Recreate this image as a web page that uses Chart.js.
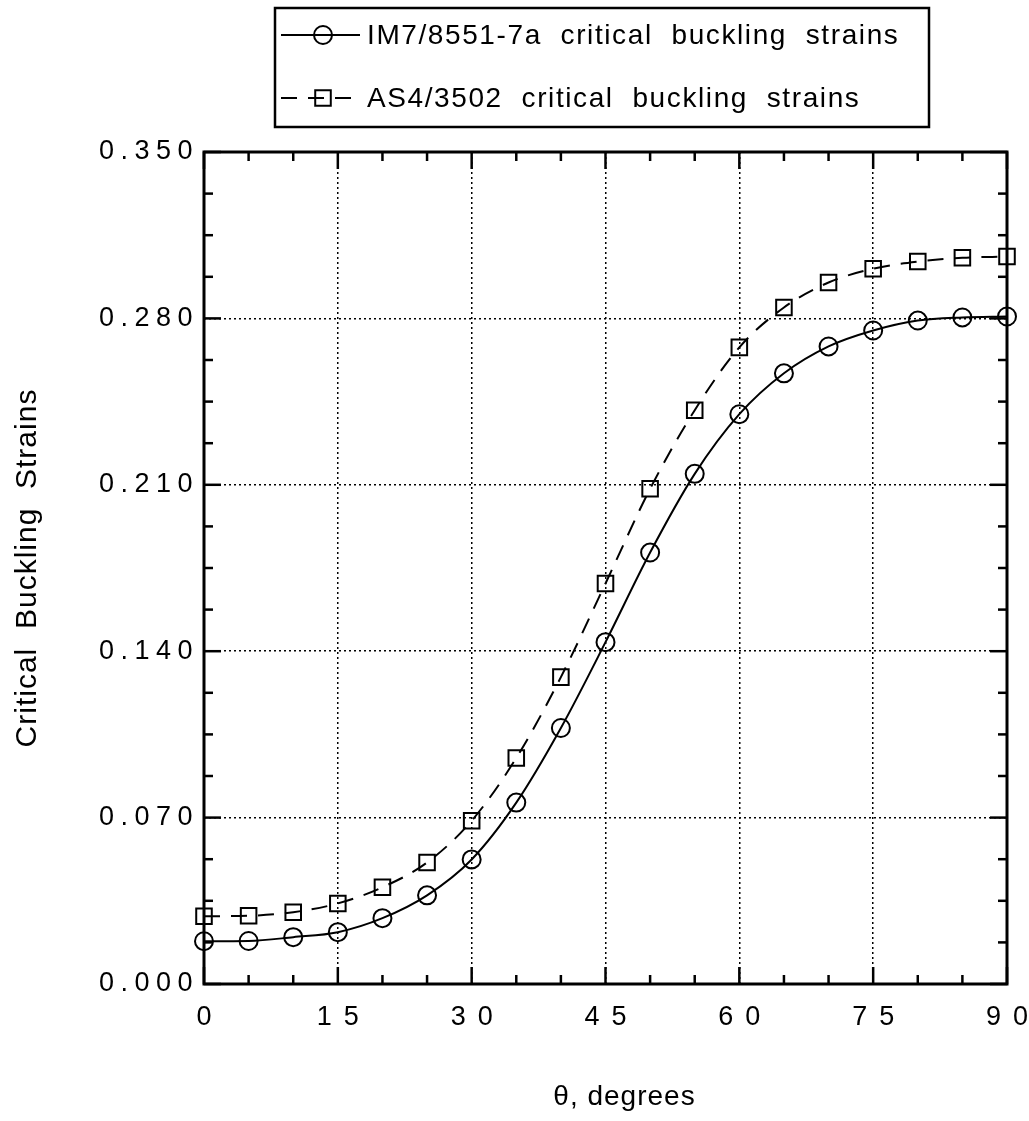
<!DOCTYPE html>
<html lang="en">
<head>
    <meta charset="UTF-8">
    <title>Critical Buckling Strains</title>
    <script src="https://cdn.jsdelivr.net/npm/chart.js"></script>
    <style>
        html, body { margin: 0; padding: 0; background: #fff; overflow: hidden; }
        .chart-wrap { position: relative; width: 1029px; height: 1121px; }
        .chart-wrap canvas { display: block; }
    </style>
</head>
<body>
    <div class="chart-wrap">
        <canvas id="bucklingChart"></canvas>
    </div>
    <script>
    // ply angle, degrees
    const angles = [0, 5, 10, 15, 20, 25, 30, 35, 40, 45, 50, 55, 60, 65, 70, 75, 80, 85, 90];
    const im7Strains = [0.0180, 0.0181, 0.0197, 0.0218, 0.0277, 0.0373, 0.0524, 0.0763, 0.1077, 0.1438,
                        0.1815, 0.2146, 0.2397, 0.2569, 0.2682, 0.2749, 0.2791, 0.2804, 0.2808];
    const as4Strains = [0.0285, 0.0287, 0.0302, 0.0339, 0.0407, 0.0511, 0.0687, 0.0951, 0.1291, 0.1685,
                        0.2083, 0.2414, 0.2678, 0.2846, 0.2951, 0.3009, 0.3039, 0.3055, 0.3060];
    const seriesNames = ['IM7/8551-7a  critical  buckling  strains', 'AS4/3502  critical  buckling  strains'];
    const xTitle = 'θ, degrees';
    const yTitle = 'Critical  Buckling  Strains';

    const FONT = "'Liberation Sans', Arial, Helvetica, sans-serif";
    const xLabelSpacing = 12;
    const yLabelSpacing = 6.5;

    // wide letter spacing on tick labels, like the old plotting package
    const spacedText = {
        id: 'spacedText',
        beforeDraw(chart) {
            ['x', 'y'].forEach(id => {
                const s = chart.scales[id];
                if (s._spaced) return;
                const sp = id === 'x' ? xLabelSpacing : yLabelSpacing;
                const origLabels = s.drawLabels.bind(s);
                s.drawLabels = function(area) {
                    const ctx = this.ctx;
                    ctx.save();
                    ctx.letterSpacing = sp + 'px';
                    if (id === 'x') ctx.translate(sp / 2, 0);
                    origLabels(area);
                    ctx.restore();
                };
                const origTitle = s.drawTitle.bind(s);
                s.drawTitle = function() {
                    const ctx = this.ctx;
                    ctx.save();
                    ctx.letterSpacing = '1px';
                    if (id === 'x') ctx.translate(19, 0);
                    origTitle();
                    ctx.restore();
                };
                s._spaced = true;
            });
        }
    };

    // frame with inward tick marks on all four sides
    const frameTicks = {
        id: 'frameTicks',
        beforeDatasetsDraw(chart) {
            const {ctx, chartArea: a, scales: {x, y}} = chart;
            const line = (x1, y1, x2, y2) => { ctx.beginPath(); ctx.moveTo(x1, y1); ctx.lineTo(x2, y2); ctx.stroke(); };
            ctx.save();
            ctx.strokeStyle = '#000';
            ctx.lineWidth = 2.5;
            for (let v = 0; v <= 90; v += 5) {
                const px = x.getPixelForValue(v);
                const len = v % 15 === 0 ? 17 : 9;
                line(px, a.bottom, px, a.bottom - len);
                line(px, a.top, px, a.top + len);
            }
            for (let i = 0; i <= 20; i++) {
                const py = y.getPixelForValue(i * 0.0175);
                const len = i % 4 === 0 ? 17 : 9;
                line(a.left, py, a.left + len, py);
                line(a.right, py, a.right - len, py);
            }
            ctx.lineWidth = 3;
            ctx.strokeRect(a.left, a.top, a.right - a.left, a.bottom - a.top);
            ctx.restore();
        }
    };

    // boxed legend above the plot
    const boxLegend = {
        id: 'boxLegend',
        afterDraw(chart) {
            const ctx = chart.ctx;
            const rows = [35, 98];
            ctx.save();
            ctx.strokeStyle = '#000';
            ctx.lineWidth = 2.5;
            ctx.strokeRect(275, 8, 654, 119);
            chart.data.datasets.forEach((ds, i) => {
                const yy = rows[i];
                ctx.save();
                ctx.lineWidth = ds.borderWidth;
                ctx.setLineDash(ds.borderDash || []);
                ctx.beginPath(); ctx.moveTo(281, yy); ctx.lineTo(360, yy); ctx.stroke();
                ctx.restore();
                ctx.lineWidth = ds.pointBorderWidth;
                ctx.fillStyle = 'rgba(0,0,0,0)';
                Chart.helpers.drawPoint(ctx, {pointStyle: ds.pointStyle, radius: ds.pointRadius, borderWidth: ds.pointBorderWidth, rotation: 0}, 323, yy);
                ctx.fillStyle = '#000';
                ctx.font = '28px ' + FONT;
                ctx.letterSpacing = '1.6px';
                ctx.textBaseline = 'middle';
                ctx.fillText(ds.label, 367, yy + 1);
            });
            ctx.restore();
        }
    };

    new Chart(document.getElementById('bucklingChart').getContext('2d'), {
        type: 'line',
        data: {
            datasets: [{
                label: seriesNames[0],
                data: angles.map((a, i) => ({x: a, y: im7Strains[i]})),
                borderColor: '#000',
                backgroundColor: 'rgba(0,0,0,0)',
                borderWidth: 2,
                pointStyle: 'circle',
                pointRadius: 9,
                pointBorderWidth: 2,
                pointBackgroundColor: 'rgba(0,0,0,0)',
                pointBorderColor: '#000',
                cubicInterpolationMode: 'monotone',
                clip: false
            }, {
                label: seriesNames[1],
                data: angles.map((a, i) => ({x: a, y: as4Strains[i]})),
                borderColor: '#000',
                backgroundColor: 'rgba(0,0,0,0)',
                borderWidth: 2,
                borderDash: [16, 11],
                pointStyle: 'rect',
                pointRadius: 11,
                pointBorderWidth: 2,
                pointBackgroundColor: 'rgba(0,0,0,0)',
                pointBorderColor: '#000',
                cubicInterpolationMode: 'monotone',
                clip: false
            }]
        },
        options: {
            responsive: true,
            maintainAspectRatio: false,
            animation: false,
            layout: { padding: { top: 152, right: 22, left: 0, bottom: 0 } },
            plugins: { legend: { display: false }, tooltip: { enabled: false } },
            scales: {
                x: {
                    type: 'linear',
                    min: 0, max: 90,
                    afterFit: s => { s.height = 137; s.paddingLeft = 0; s.paddingRight = 0; },
                    ticks: { stepSize: 15, padding: 17, color: '#000', font: { family: FONT, size: 27 } },
                    grid: { color: '#000', lineWidth: 1.5, drawTicks: false },
                    border: { display: false, dash: [2, 3] },
                    title: { display: true, text: xTitle, color: '#000', padding: { top: 0, bottom: 7 }, font: { family: FONT, size: 28 } }
                },
                y: {
                    min: 0, max: 0.35,
                    afterFit: s => { s.width = 204; s.paddingTop = 0; s.paddingBottom = 0; },
                    ticks: { stepSize: 0.07, padding: 5, color: '#000', font: { family: FONT, size: 27 },
                             callback: v => v.toFixed(3) },
                    grid: { color: '#000', lineWidth: 1.5, drawTicks: false },
                    border: { display: false, dash: [2, 3] },
                    title: { display: true, text: yTitle, color: '#000', padding: { top: 10, bottom: 0 }, font: { family: FONT, size: 30 } }
                }
            }
        },
        plugins: [spacedText, frameTicks, boxLegend]
    });
    </script>
</body>
</html>
